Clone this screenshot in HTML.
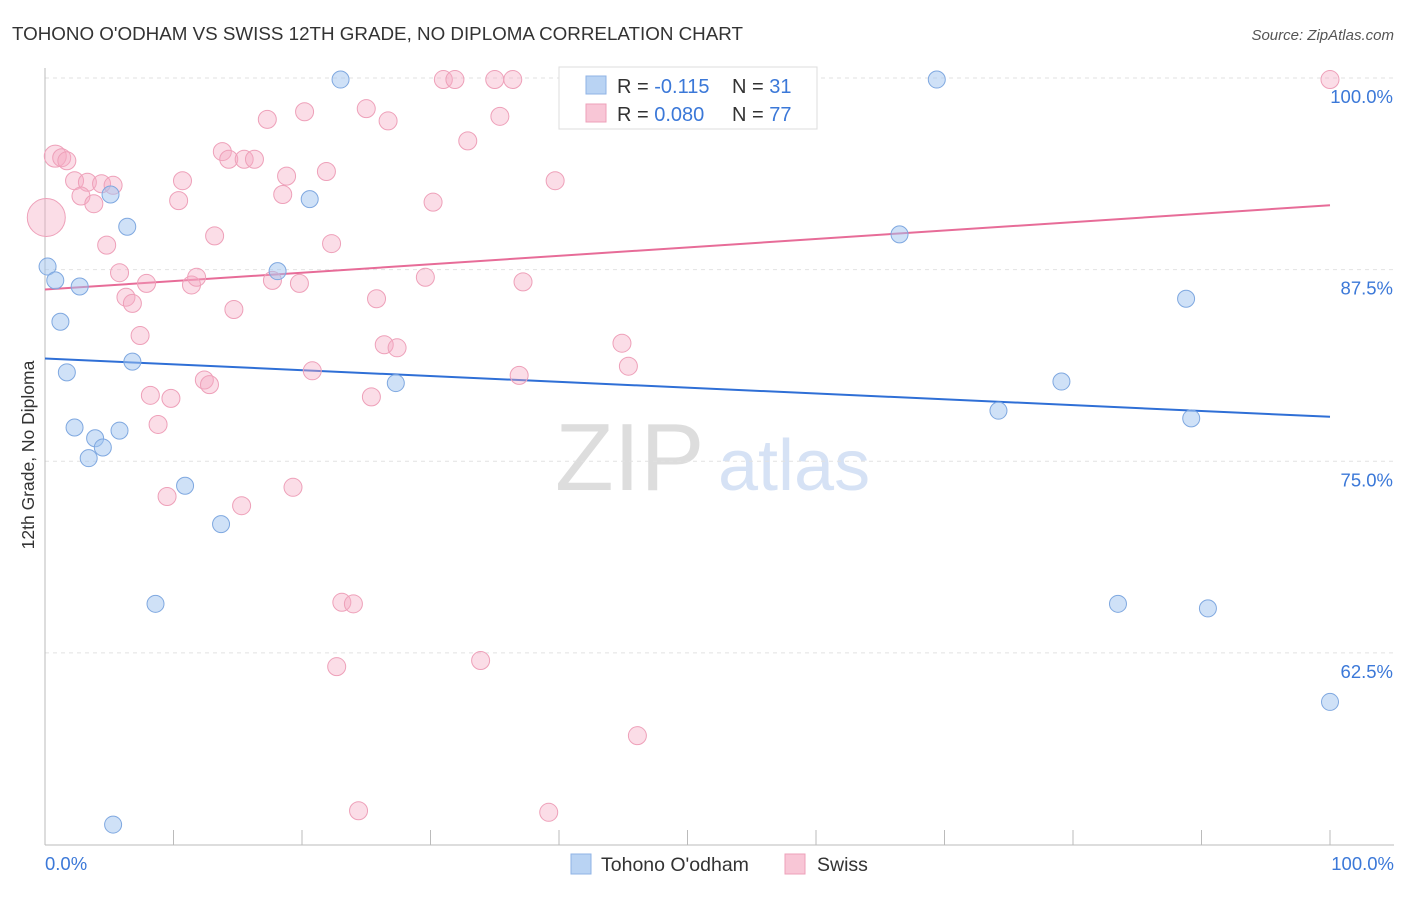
<!DOCTYPE html>
<html><head><meta charset="utf-8">
<style>
body{margin:0;background:#fff;font-family:"Liberation Sans",sans-serif;}
svg text{font-family:"Liberation Sans",sans-serif;}
</style></head>
<body>
<svg id="chart" width="1406" height="892" xmlns="http://www.w3.org/2000/svg">
<text x="12" y="40" font-size="18.8" fill="#333">TOHONO O'ODHAM VS SWISS 12TH GRADE, NO DIPLOMA CORRELATION CHART</text>
<text x="1394" y="40" font-size="15" fill="#555" font-style="italic" text-anchor="end">Source: ZipAtlas.com</text>
<text x="34" y="455" font-size="17.5" fill="#333" text-anchor="middle" transform="rotate(-90 34 455)">12th Grade, No Diploma</text>
<g><text x="555" y="490" font-size="96" fill="#ddd" font-family="Liberation Serif,serif">ZIP</text><text x="718" y="490" font-size="72" fill="#d6e2f5">atlas</text></g>
<g id="grid"></g><g id="axes"></g><g id="lines"></g><g id="pts"></g>
<g>
<rect x="559" y="67" width="258" height="62" fill="#fff" stroke="#ddd"/>
<rect x="586" y="76" width="20" height="18" fill="#b9d3f3" stroke="#8fb3e6"/>
<rect x="586" y="104" width="20" height="18" fill="#f8c6d6" stroke="#eea0b9"/>
<text x="617" y="93" font-size="20" fill="#333">R = <tspan fill="#3b78d8">-0.115</tspan></text>
<text x="732" y="93" font-size="20" fill="#333">N = <tspan fill="#3b78d8"> 31</tspan></text>
<text x="617" y="121" font-size="20" fill="#333">R = <tspan fill="#3b78d8">0.080</tspan></text>
<text x="732" y="121" font-size="20" fill="#333">N = <tspan fill="#3b78d8">77</tspan></text>
</g>
<g>
<rect x="571" y="854" width="20" height="20" fill="#b9d3f3" stroke="#8fb3e6"/>
<text x="601" y="871" font-size="19.5" fill="#333">Tohono O'odham</text>
<rect x="785" y="854" width="20" height="20" fill="#f8c6d6" stroke="#eea0b9"/>
<text x="817" y="871" font-size="19.5" fill="#333">Swiss</text>
</g>
</svg>
<script>
const yTicks=[100,87.5,75,62.5];
const yTickLabels=["100.0%","87.5%","75.0%","62.5%"];
const xTickLabels=["0.0%","100.0%"];
const blueX=[23.0,69.4,5.1,20.6,6.4,66.5,0.2,0.8,18.1,2.7,88.8,1.2,6.8,1.7,27.3,79.1,74.2,89.2,2.3,3.9,5.8,4.5,3.4,10.9,13.7,8.6,83.5,90.5,100,5.3];
const blueY=[99.9,99.9,92.4,92.1,90.3,89.8,87.7,86.8,87.4,86.4,85.6,84.1,81.5,80.8,80.1,80.2,78.3,77.8,77.2,76.5,77.0,75.9,75.2,73.4,70.9,65.7,65.7,65.4,59.3,51.3];
const pinkX=[0.8,1.3,1.7,2.3,3.3,4.4,5.3,2.8,3.8,4.8,5.8,6.3,6.8,7.4,7.9,8.2,8.8,9.5,9.8,10.4,10.7,11.4,11.8,12.4,12.8,13.2,13.8,14.3,14.7,15.5,16.3,17.3,17.7,18.5,18.8,19.3,19.8,20.2,20.8,21.9,22.3,22.7,23.1,24.0,24.4,25.0,25.4,25.8,26.4,26.7,27.4,29.6,30.2,31.0,31.9,32.9,33.9,35.0,35.4,36.4,36.9,37.2,39.2,39.7,41.4,44.9,45.4,46.1,47.9,52.3,100,15.3,0.1];
const pinkY=[94.9,94.8,94.6,93.3,93.2,93.1,93.0,92.3,91.8,89.1,87.3,85.7,85.3,83.2,86.6,79.3,77.4,72.7,79.1,92.0,93.3,86.5,87.0,80.3,80.0,89.7,95.2,94.7,84.9,94.7,94.7,97.3,86.8,92.4,93.6,73.3,86.6,97.8,80.9,93.9,89.2,61.6,65.8,65.7,52.2,98.0,79.2,85.6,82.6,97.2,82.4,87.0,91.9,99.9,99.9,95.9,62.0,99.9,97.5,99.9,80.6,86.7,52.1,93.3,99.9,82.7,81.2,57.1,99.9,99.9,99.9,72.1,90.9];
const pinkR=[11,9,9,9,9,9,9,9,9,9,9,9,9,9,9,9,9,9,9,9,9,9,9,9,9,9,9,9,9,9,9,9,9,9,9,9,9,9,9,9,9,9,9,9,9,9,9,9,9,9,9,9,9,9,9,9,9,9,9,9,9,9,9,9,9,9,9,9,9,9,9,9,19];
const trendBlue=[81.7,77.9];
const trendPink=[86.2,91.7];
const NS="http://www.w3.org/2000/svg";
const xS=v=>45+v*12.85;
const yS=v=>78+(100-v)*15.33;
function mk(tag,attrs,parent){const e=document.createElementNS(NS,tag);for(const k in attrs)e.setAttribute(k,attrs[k]);document.getElementById(parent).appendChild(e);return e;}
yTicks.forEach((t,i)=>{
 const l=mk('line',{x1:45,x2:1394,y1:yS(t),y2:yS(t),stroke:'#e2e2e2','stroke-dasharray':'4,4'},'grid');
 
 
 const tx=mk('text',{x:1393,y:yS(t)+25,'font-size':18.5,fill:'#3b78d8','text-anchor':'end'},'grid');
 tx.textContent=yTickLabels[i];
 
 
});
const ax=mk('line',{x1:45,x2:1394,y1:845,y2:845,stroke:'#bbb'},'axes');


const ay=mk('line',{x1:45,x2:45,y1:68,y2:845,stroke:'#bbb'},'axes');


for(let i=0;i<=10;i++){
 const tk=mk('line',{x1:xS(i*10),x2:xS(i*10),y1:830,y2:845,stroke:'#bbb'},'axes');
 
 
}
[[0,'start',45],[100,'end',1394]].forEach((d,i)=>{
 const tx=mk('text',{x:d[2],y:870,'font-size':18.5,fill:'#3b78d8','text-anchor':d[1]},'axes');
 tx.textContent=xTickLabels[i];
 
 
});
pinkX.forEach((x,i)=>{
 const c=mk('circle',{cx:xS(x),cy:yS(pinkY[i]),r:pinkR[i],fill:'rgba(245,170,195,0.4)',stroke:'#eea0b9','stroke-width':1},'pts');
 
 
});
blueX.forEach((x,i)=>{
 const c=mk('circle',{cx:xS(x),cy:yS(blueY[i]),r:8.5,fill:'rgba(160,195,240,0.5)',stroke:'#7fa8e0','stroke-width':1},'pts');
 
 
});
const tb=mk('line',{x1:xS(0),x2:xS(100),y1:yS(trendBlue[0]),y2:yS(trendBlue[1]),stroke:'#2f6fd6','stroke-width':2},'lines');


const tp=mk('line',{x1:xS(0),x2:xS(100),y1:yS(trendPink[0]),y2:yS(trendPink[1]),stroke:'#e76c98','stroke-width':2},'lines');


</script>
</body></html>
